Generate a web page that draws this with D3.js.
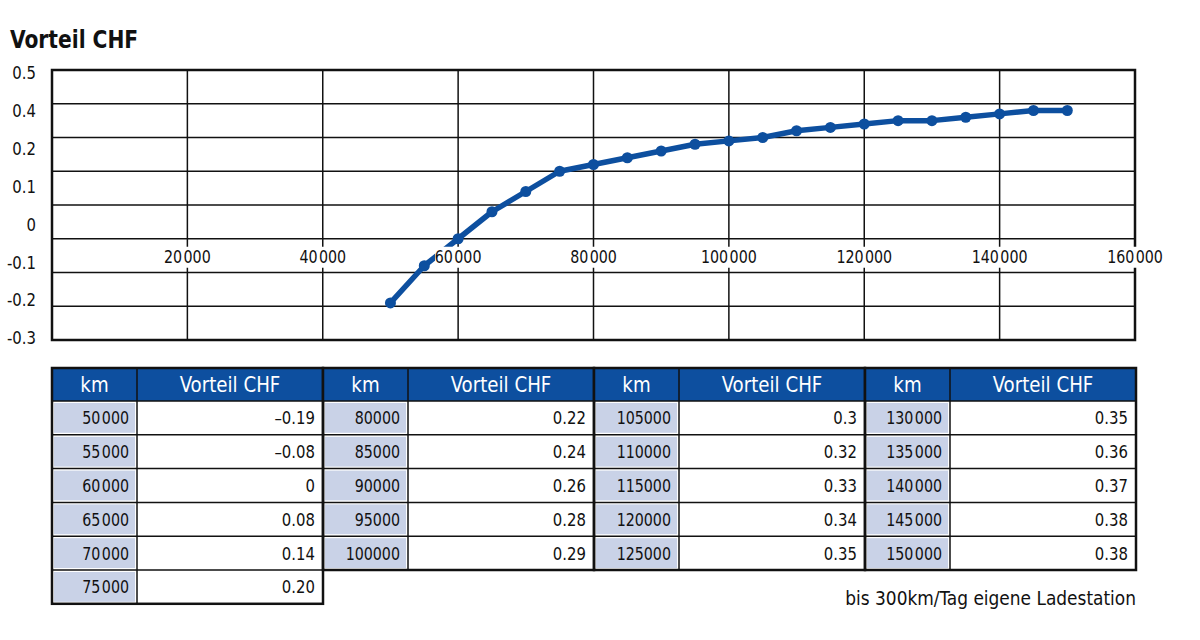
<!DOCTYPE html>
<html><head><meta charset="utf-8">
<script src="https://cdn.jsdelivr.net/npm/d3@7"></script>
<style>
body{margin:0;background:#fff;}
svg{display:block;font-family:"Liberation Sans Narrow","DejaVu Sans Condensed","Roboto Condensed",sans-serif;}
</style></head>
<body><svg id="c" width="1200" height="640"></svg>
<script>
const title = "Vorteil CHF";
const km = [50000,55000,60000,65000,70000,75000,80000,85000,90000,95000,100000,105000,110000,115000,120000,125000,130000,135000,140000,145000,150000];
const vorteil = [-0.19,-0.08,0,0.08,0.14,0.20,0.22,0.24,0.26,0.28,0.29,0.3,0.32,0.33,0.34,0.35,0.35,0.36,0.37,0.38,0.38];
const kmLabels = ["50\u200A000","55\u200A000","60\u200A000","65\u200A000","70\u200A000","75\u200A000","80000","85000","90000","95000","100000","105000","110000","115000","120000","125000","130\u200A000","135\u200A000","140\u200A000","145\u200A000","150\u200A000"];
const vorteilLabels = ["\u20130.19","\u20130.08","0","0.08","0.14","0.20","0.22","0.24","0.26","0.28","0.29","0.3","0.32","0.33","0.34","0.35","0.35","0.36","0.37","0.38","0.38"];
const xTicks = [20000,40000,60000,80000,100000,120000,140000,160000];
const xTickLabels = ["20\u200A000","40\u200A000","60\u200A000","80\u200A000","100\u200A000","120\u200A000","140\u200A000","160\u200A000"];
const yGrid = [-0.3,-0.2,-0.1,0,0.1,0.2,0.3,0.4,0.5];
const yTickLabels = ["0.5","0.4","0.2","0.1","0","-0.1","-0.2","-0.3"];
const tableGroups = [[0,6],[6,11],[11,16],[16,21]];
const headers = ["km","Vorteil CHF"];
const note = "bis 300km/Tag eigene Ladestation";

const svg = d3.select("#c");
const blue = "#0d4f9f";
const L=52, R=1135, T=70, B=340;
const x = d3.scaleLinear().domain([0,160000]).range([L,R]);
const y = d3.scaleLinear().domain([-0.3,0.5]).range([B,T]);
const yLab = d3.scalePoint().domain(yTickLabels).range([73,338]);

// condensed text helper
function txt(parent, px, py, str, size, anchor, sx, opts={}){
  const t = parent.append("text")
    .attr("transform",`translate(${px},${py}) scale(${sx},1)`)
    .attr("text-anchor",anchor).attr("font-size",size)
    .attr("fill",opts.fill||"#111").text(str);
  if(opts.dy) t.attr("dy",opts.dy);
  if(opts.weight) t.attr("font-weight",opts.weight);
  return t;
}

txt(svg,10,48,title,25,"start",0.9,{weight:"bold"});

// grid
svg.append("g").selectAll("line").data(yGrid).join("line")
  .attr("x1",L).attr("x2",R).attr("y1",d=>y(d)).attr("y2",d=>y(d))
  .attr("stroke","#111").attr("stroke-width",1.5);
svg.append("g").selectAll("line").data(xTicks).join("line")
  .attr("x1",d=>x(d)).attr("x2",d=>x(d)).attr("y1",T).attr("y2",B)
  .attr("stroke","#111").attr("stroke-width",1.5);
svg.append("rect").attr("x",L).attr("y",T).attr("width",R-L).attr("height",B-T)
  .attr("fill","none").attr("stroke","#111").attr("stroke-width",2.5);

// y labels
const yg = svg.append("g");
yTickLabels.forEach(d=>txt(yg,36,yLab(d),d,18,"end",0.92,{dy:"0.35em"}));

// line
const pts = km.map((k,i)=>[k,vorteil[i]]);
svg.append("path").datum(pts)
  .attr("d",d3.line().x(d=>x(d[0])).y(d=>y(d[1])))
  .attr("fill","none").attr("stroke",blue).attr("stroke-width",5.5).attr("stroke-linejoin","round");
svg.append("g").selectAll("circle").data(pts).join("circle")
  .attr("cx",d=>x(d[0])).attr("cy",d=>y(d[1])).attr("r",5.5).attr("fill",blue);

// x labels with white background
const xl = svg.append("g").selectAll("g").data(xTicks).join("g")
  .attr("transform",d=>`translate(${x(d)},${y(0)+18})`);
xl.append("rect").attr("x",-23).attr("y",-10).attr("width",46).attr("height",21).attr("fill","#fff");
xl.each(function(d,i){ txt(d3.select(this),0,0,xTickLabels[i],18,"middle",0.88,{dy:"0.35em"}); });

// table
const gW = 271, kmW = 85, tTop = 368, hH = 33, rH = 33.8;
const gx = d3.scaleLinear().domain([0,4]).range([L,L+4*gW]);
tableGroups.forEach((g,gi)=>{
  const x0 = gx(gi);
  const rows = d3.range(g[0],g[1]);
  const grp = svg.append("g");
  grp.append("rect").attr("x",x0).attr("y",tTop).attr("width",gW).attr("height",hH).attr("fill",blue);
  txt(grp,x0+kmW/2,tTop+hH/2,headers[0],22,"middle",0.92,{dy:"0.36em",fill:"#fff"});
  txt(grp,x0+kmW+(gW-kmW)/2,tTop+hH/2,headers[1],22,"middle",0.92,{dy:"0.36em",fill:"#fff"});
  rows.forEach((r,ri)=>{
    const ry = tTop+hH+ri*rH;
    grp.append("rect").attr("x",x0+2).attr("y",ry+2).attr("width",kmW-4).attr("height",rH-4).attr("fill","#c9d2e7");
    txt(grp,x0+kmW-8,ry+rH/2,kmLabels[r],18,"end",0.88,{dy:"0.36em"});
    txt(grp,x0+gW-8,ry+rH/2,vorteilLabels[r],18,"end",0.92,{dy:"0.36em"});
    grp.append("line").attr("x1",x0).attr("x2",x0+gW).attr("y1",ry).attr("y2",ry).attr("stroke","#111").attr("stroke-width",1.5);
  });
  const bottom = tTop+hH+rows.length*rH;
  grp.append("line").attr("x1",x0+kmW).attr("x2",x0+kmW).attr("y1",tTop).attr("y2",bottom).attr("stroke","#111").attr("stroke-width",1.5);
  grp.append("rect").attr("x",x0).attr("y",tTop).attr("width",gW).attr("height",bottom-tTop)
    .attr("fill","none").attr("stroke","#111").attr("stroke-width",2.5);
});

txt(svg,1136,605,note,20,"end",0.945);
</script></body></html>
